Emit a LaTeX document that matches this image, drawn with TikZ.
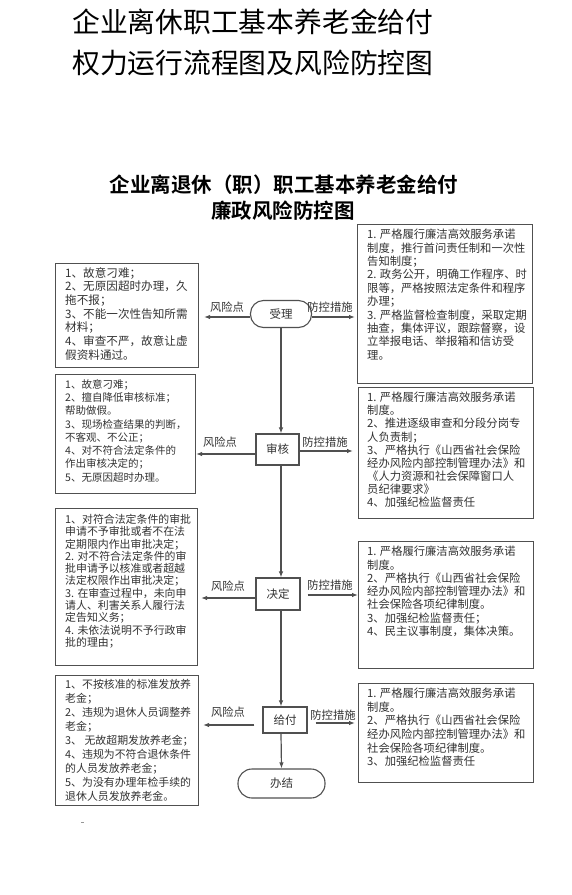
\documentclass[tikz,border=0pt]{standalone}
\usepackage{fontspec}
\setmainfont{Noto Sans CJK SC}[BoldFont={Noto Sans CJK SC Bold}]
\usetikzlibrary{arrows.meta}
\definecolor{linec}{HTML}{505050}
\definecolor{txtc}{HTML}{333333}
\begin{document}
\begin{tikzpicture}[x=1pt,y=-1pt,
  box/.style={draw=linec, line width=1.1pt, anchor=north west, inner sep=0pt},
  txt/.style={anchor=north west, inner sep=0pt, align=left, text=txtc},
  stepnode/.style={draw=linec, line width=1.1pt, inner sep=0pt, text=txtc, font=\fontsize{11.5}{13}\selectfont},
  arr/.style={draw=linec, line width=1.2pt, -{Latex[length=6pt,width=4.5pt]}},
  lab/.style={inner sep=0pt, text=txtc, font=\fontsize{11.3}{13}\selectfont}]
\useasboundingbox[fill=white] (0,0) rectangle (572,895);

% titles
\node[anchor=west, inner sep=0pt, font=\fontsize{27.8}{30}\selectfont] (t1) at (72,22) {企业离休职工基本养老金给付};
\node[anchor=west, inner sep=0pt, font=\fontsize{27.8}{30}\selectfont] (t2) at (72,63) {权力运行流程图及风险防控图};
\node[inner sep=0pt, font=\bfseries\fontsize{20.5}{22}\selectfont] (s1) at (284,185) {企业离退休（职）职工基本养老金给付};
\node[inner sep=0pt, font=\bfseries\fontsize{20.5}{22}\selectfont] (s2) at (283,211) {廉政风险防控图};

% center flow
\node[stepnode, rounded corners=13pt, minimum width=61pt, minimum height=27pt] (a) at (281,314) {受理};
\node[stepnode, minimum width=43pt, minimum height=31pt] (b) at (277.5,449.5) {审核};
\node[stepnode, minimum width=44pt, minimum height=32pt] (c) at (278,594) {决定};
\node[stepnode, minimum width=44pt, minimum height=26pt] (d) at (285,720) {给付};
\node[stepnode, rounded corners=14pt, minimum width=87pt, minimum height=29pt] (e) at (281.5,783.5) {办结};

% boxes
\node[box, minimum width=143pt, minimum height=104pt] (L1) at (55,263) {};
\node[box, minimum width=140pt, minimum height=119pt] (L2) at (55,374) {};
\node[box, minimum width=142pt, minimum height=157pt] (L3) at (55,508) {};
\node[box, minimum width=143pt, minimum height=130pt] (L4) at (55,675) {};
\node[box, minimum width=175pt, minimum height=159pt] (R1) at (357,224) {};
\node[box, minimum width=175pt, minimum height=131pt] (R2) at (358,387) {};
\node[box, minimum width=175pt, minimum height=127pt] (R3) at (358,541) {};
\node[box, minimum width=175pt, minimum height=99pt] (R4) at (358,683) {};

% box texts
\node[txt, font=\fontsize{11.6}{13.67}\selectfont] (L1t) at (65,267) {1、故意刁难；\\2、无原因超时办理，久\\拖不报；\\3、不能一次性告知所需\\材料；\\4、审查不严，故意让虚\\假资料通过。};
\node[txt, font=\fontsize{10.5}{13.3}\selectfont] (L2t) at (65,379) {1、故意刁难；\\2、擅自降低审核标准；\\帮助做假。\\3、现场检查结果的判断，\\不客观、不公正；\\4、对不符合法定条件的\\作出审核决定的；\\5、无原因超时办理。};
\node[txt, font=\fontsize{10.9}{12.3}\selectfont] (L3t) at (65,514) {1、对符合法定条件的审批\\申请不予审批或者不在法\\定期限内作出审批决定；\\2. 对不符合法定条件的审\\批申请予以核准或者超越\\法定权限作出审批决定；\\3. 在审查过程中，未向申\\请人、利害关系人履行法\\定告知义务；\\4. 未依法说明不予行政审\\批的理由；};
\node[txt, font=\fontsize{10.9}{14}\selectfont] (L4t) at (65,679) {1、不按核准的标准发放养\\老金；\\2、违规为退休人员调整养\\老金；\\3、 无故超期发放养老金；\\4、违规为不符合退休条件\\的人员发放养老金；\\5、为没有办理年检手续的\\退休人员发放养老金。};
\node[txt, font=\fontsize{11.3}{13.4}\selectfont] (R1t) at (367,229) {1. 严格履行廉洁高效服务承诺\\制度，推行首问责任制和一次性\\告知制度；\\2. 政务公开，明确工作程序、时\\限等，严格按照法定条件和程序\\办理；\\3. 严格监督检查制度，采取定期\\抽查，集体评议，跟踪督察，设\\立举报电话、举报箱和信访受\\理。};
\node[txt, font=\fontsize{11.3}{13.1}\selectfont] (R2t) at (367,392) {1. 严格履行廉洁高效服务承诺\\制度。\\2、推进逐级审查和分段分岗专\\人负责制；\\3、严格执行《山西省社会保险\\经办风险内部控制管理办法》和\\《人力资源和社会保障窗口人\\员纪律要求》\\4、加强纪检监督责任};
\node[txt, font=\fontsize{11.3}{13.3}\selectfont] (R3t) at (367,546) {1. 严格履行廉洁高效服务承诺\\制度。\\2、严格执行《山西省社会保险\\经办风险内部控制管理办法》和\\社会保险各项纪律制度。\\3、加强纪检监督责任；\\4、民主议事制度，集体决策。};
\node[txt, font=\fontsize{11.3}{13.6}\selectfont] (R4t) at (367,688) {1. 严格履行廉洁高效服务承诺\\制度。\\2、严格执行《山西省社会保险\\经办风险内部控制管理办法》和\\社会保险各项纪律制度。\\3、加强纪检监督责任};

% vertical arrows
\draw[arr] (a.south) -- (a.south |- b.north);
\draw[arr] (a.south |- b.south) -- (a.south |- c.north);
\draw[arr] (a.south |- c.south) -- (a.south |- d.north);
\draw[arr] (a.south |- d.south) -- (e.north);

% horizontal arrows
\draw[arr, shorten >=5pt] ([yshift=-3pt]a.west) -- ([yshift=-3pt]a.west -| L1.east);
\draw[arr, shorten >=2pt] ([yshift=-3pt]a.east) -- ([yshift=-3pt]a.east -| R1.west);
\draw[arr] ([yshift=-4.5pt]b.west) -- ([yshift=-4.5pt]b.west -| L2.east);
\draw[arr, shorten >=5pt] ([yshift=-1.5pt]b.east) -- ([yshift=-1.5pt]b.east -| R2.west);
\draw[arr, shorten >=3pt] ([yshift=-4pt]c.west) -- ([yshift=-4pt]c.west -| L3.east);
\draw[arr, shorten <=7pt] ([yshift=-1pt]c.east) -- ([yshift=-1pt]c.east -| R3.west);
\draw[arr, shorten <=8pt, shorten >=4pt] ([yshift=-5pt]d.west) -- ([yshift=-5pt]d.west -| L4.east);
\draw[arr, shorten <=8pt, shorten >=3pt] ([yshift=-3pt]d.east) -- ([yshift=-3pt]d.east -| R4.west);

% labels
\node[lab] (la1) at (227,307) {风险点};
\node[lab] (lb1) at (330,307) {防控措施};
\node[lab] (la2) at (220,442) {风险点};
\node[lab] (lb2) at (325,442) {防控措施};
\node[lab] (la3) at (228,586) {风险点};
\node[lab] (lb3) at (330,585) {防控措施};
\node[lab] (la4) at (228,712) {风险点};
\node[lab] (lb4) at (333,715) {防控措施};

% tiny mark
\coordinate (m1) at (81,822);
\coordinate (m2) at (84,822);
\draw[linec!60, line width=0.8pt] (m1) -- (m2);
\end{tikzpicture}
\end{document}
